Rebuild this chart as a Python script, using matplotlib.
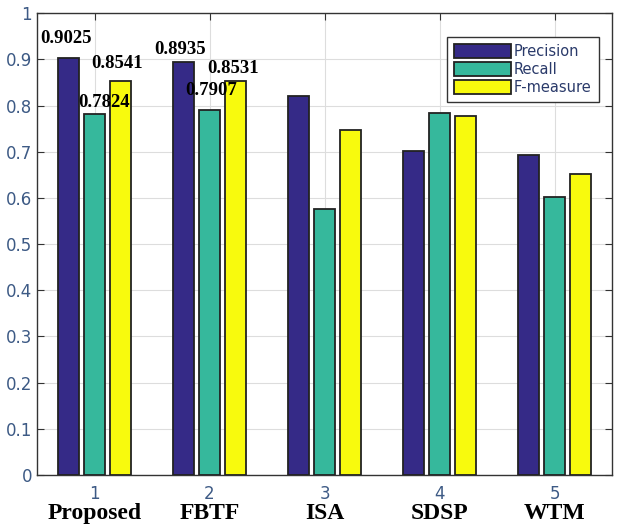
import numpy as np
import matplotlib.pyplot as plt

# values
methods = ["Proposed", "FBTF", "ISA", "SDSP", "WTM"]
precision = [0.9025, 0.8935, 0.820, 0.701, 0.692]
recall = [0.7824, 0.7907, 0.577, 0.783, 0.601]
fmeasure = [0.8541, 0.8531, 0.747, 0.778, 0.651]
series_names = ["Precision", "Recall", "F-measure"]

colors = ["#352a87", "#36b89c", "#f8fa0d"]
tick_col = "#3d5a85"

x = np.arange(1, len(methods) + 1)
width = 0.18
step = 0.228

fig = plt.figure(figsize=(6.17, 5.29), dpi=100)
ax = fig.add_axes([0.060, 0.102, 0.932, 0.873])

series = [precision, recall, fmeasure]
for i, (vals, name) in enumerate(zip(series, series_names)):
    ax.bar(x + (i - 1) * step, vals, width, color=colors[i], edgecolor="#222222",
           linewidth=1.3, label=name, zorder=3)

# bold value labels on the first two groups (offsets in points)
offsets = [
    [(-2, 14), (7, 8), (-3, 12)],
    [(-2, 9), (1, 14), (-2, 9)],
]
for g in range(2):
    for i, vals in enumerate(series):
        dx, dy = offsets[g][i]
        ax.annotate(f"{vals[g]:.4f}", (x[g] + (i - 1) * step, vals[g]),
                    xytext=(dx, dy), textcoords="offset points", ha="center", va="center",
                    fontsize=13.5, fontweight="bold", family="Liberation Serif",
                    color="black", zorder=5)

ax.set_xlim(0.5, 5.5)
ax.set_ylim(0, 1)
ax.set_yticks(np.arange(0, 1.01, 0.1))
ax.set_yticklabels(["0", "0.1", "0.2", "0.3", "0.4", "0.5", "0.6", "0.7", "0.8", "0.9", "1"])
ax.set_xticks(x)
ax.set_xticklabels([str(v) for v in x])
ax.tick_params(direction="in", top=True, right=True, length=5, colors="#333333",
               labelcolor=tick_col, labelsize=12)
ax.tick_params(axis="x", pad=7)
ax.grid(True, color="#dddddd", linewidth=0.8, zorder=0)
ax.set_axisbelow(True)
for s in ax.spines.values():
    s.set_color("#333333")
    s.set_linewidth(1.0)

# method names under the numeric ticks
for xi, name in zip(x, methods):
    ax.text(xi, -0.083, name, transform=ax.get_xaxis_transform(), ha="center", va="center",
            fontsize=17, fontweight="bold", family="Liberation Serif", color="black")

leg = ax.legend(loc="upper right", bbox_to_anchor=(0.99, 0.965), fontsize=10.5,
                fancybox=False, framealpha=1, edgecolor="#333333",
                handlelength=3.9, handleheight=1.05, handletextpad=0.2,
                borderpad=0.5, labelspacing=0.2)
for t in leg.get_texts():
    t.set_color("#2a3a6a")

fig.savefig("out.png", dpi=100)
